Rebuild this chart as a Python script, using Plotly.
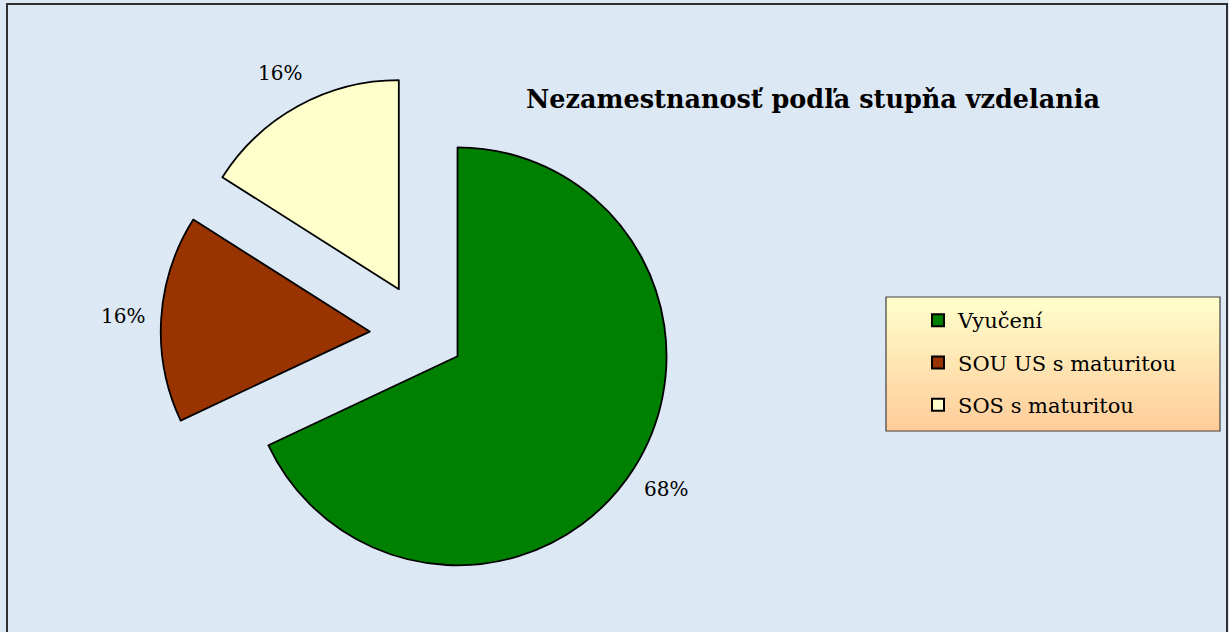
import math
import plotly.graph_objects as go

# ---- data ----
categories = ["Vyučení", "SOU US s maturitou", "SOS s maturitou"]
values = [68, 16, 16]
pct_labels = ["68%", "16%", "16%"]
colors = ["#008000", "#993300", "#FFFFCC"]
pulls = [0.19, 0.26, 0.25]
title_text = "Nezamestnanosť podľa stupňa vzdelania"

W, H = 1229, 632
FONT = "DejaVu Serif"

# pie geometry (pixels)
CX, CY, R = 424, 335, 209
S = R * (2 + 2 * max(pulls))
dom_x = [(CX - S / 2) / W, (CX + S / 2) / W]
dom_y = [1 - (CY + S / 2) / H, 1 - (CY - S / 2) / H]

fig = go.Figure()

fig.add_trace(go.Pie(
    labels=categories,
    values=values,
    marker=dict(colors=colors, line=dict(color="#000000", width=1.8)),
    pull=pulls,
    sort=False,
    direction="clockwise",
    rotation=0,
    textinfo="none",
    hoverinfo="label+percent",
    showlegend=False,
    domain=dict(x=dom_x, y=dom_y),
))

# legend entries (one per category)
for i, (cat, col) in enumerate(zip(categories, colors)):
    fig.add_trace(go.Scatter(
        x=[None], y=[None], mode="markers", name=cat,
        legendgroup=f"g{i}",
        marker=dict(symbol="square", size=13, color=col,
                    line=dict(color="#000000", width=1.8)),
        showlegend=True,
    ))

# percentage labels computed from values
total = sum(values)
cum = 0
annotations = []
for v, lab, p in zip(values, pct_labels, pulls):
    mid = (cum + v / 2) / total * 2 * math.pi
    cum += v
    d = R * (1 + p) + 38
    px = CX + d * math.sin(mid)
    py = CY - d * math.cos(mid)
    annotations.append(dict(
        x=px / W, y=1 - py / H, xref="paper", yref="paper",
        text=lab, showarrow=False, xanchor="center", yanchor="middle",
        font=dict(family=FONT, size=20, color="#000000"),
    ))

annotations.append(dict(
    x=813 / W, y=1 - 99 / H, xref="paper", yref="paper",
    text="<b>" + title_text + "</b>", showarrow=False,
    xanchor="center", yanchor="middle",
    font=dict(family=FONT, size=25.5, color="#000000"),
))

# legend box gradient
shapes = []
LX0, LX1, LY0, LY1 = 886, 1220, 297, 431
n = 40
c0 = (0xFF, 0xFF, 0xCC)
c1 = (0xFF, 0xCC, 0x99)
for k in range(n):
    t = (k + 0.5) / n
    c = tuple(round(c0[j] + (c1[j] - c0[j]) * t) for j in range(3))
    y0 = LY0 + (LY1 - LY0) * k / n
    y1 = LY0 + (LY1 - LY0) * (k + 1) / n + 0.6
    shapes.append(dict(type="rect", xref="paper", yref="paper",
                       x0=LX0 / W, x1=LX1 / W, y0=1 - y1 / H, y1=1 - y0 / H,
                       fillcolor="rgb(%d,%d,%d)" % c, line=dict(width=0),
                       layer="below"))
shapes.append(dict(type="rect", xref="paper", yref="paper",
                   x0=LX0 / W, x1=LX1 / W, y0=1 - LY1 / H, y1=1 - LY0 / H,
                   line=dict(color="#404040", width=1.2), layer="below"))
# chart border
shapes.append(dict(type="rect", xref="paper", yref="paper",
                   x0=7 / W, x1=1227 / W, y0=-0.05, y1=1 - 4 / H,
                   line=dict(color="#303030", width=2), layer="below"))

fig.update_layout(
    width=W, height=H,
    margin=dict(l=0, r=0, t=0, b=0),
    paper_bgcolor="#DDE8F5",
    plot_bgcolor="rgba(0,0,0,0)",
    xaxis=dict(visible=False),
    yaxis=dict(visible=False),
    annotations=annotations,
    shapes=shapes,
    legend=dict(
        x=918 / W, y=1 - 300 / H, xanchor="left", yanchor="top",
        bgcolor="rgba(0,0,0,0)", borderwidth=0,
        font=dict(family=FONT, size=21, color="#000000"),
        tracegroupgap=12, itemsizing="constant",
    ),
)

fig.write_html("out.html",
               config={"displayModeBar": False},
               post_script="document.body.style.margin='0';document.body.style.overflow='hidden';")
